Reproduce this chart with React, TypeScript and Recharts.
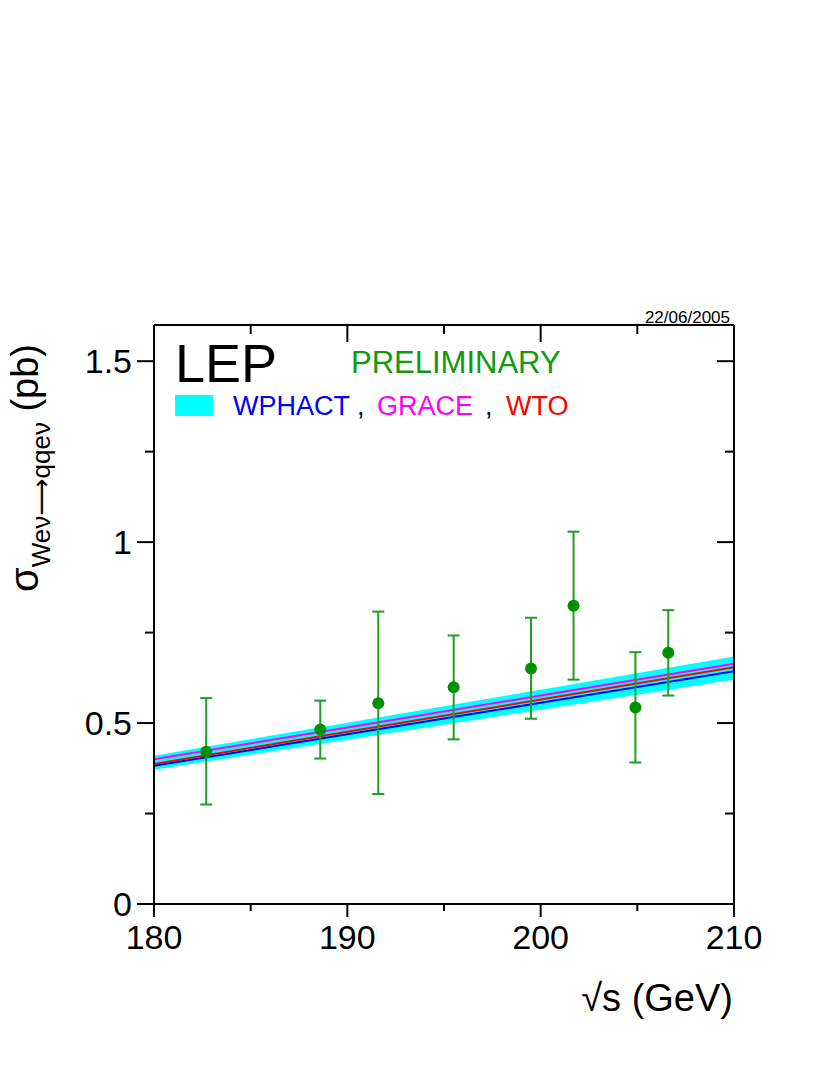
import React from "react";
import {
  ComposedChart,
  Area,
  Line,
  Scatter,
  ErrorBar,
  XAxis,
  YAxis,
} from "recharts";

// ---- data ----
const energies = [182.7, 188.6, 191.6, 195.5, 199.5, 201.7, 204.9, 206.6];
const sigmaMeas = [0.421, 0.482, 0.555, 0.599, 0.651, 0.824, 0.543, 0.694];
const errLow = [0.146, 0.08, 0.251, 0.144, 0.139, 0.204, 0.152, 0.118];
const errHigh = [0.148, 0.08, 0.253, 0.143, 0.14, 0.205, 0.153, 0.118];

const theoryE = [180, 190, 200, 210];
const wphact = [0.382, 0.469, 0.556, 0.643];
const grace = [0.4, 0.488, 0.576, 0.664];
const wto = [0.387, 0.476, 0.565, 0.654];
const bandLow = [0.371, 0.454, 0.537, 0.62];
const bandHigh = [0.41, 0.501, 0.592, 0.684];

const xTicks = [180, 185, 190, 195, 200, 205, 210];
const xMajor = [180, 190, 200, 210];
const yTicks = [0, 0.25, 0.5, 0.75, 1, 1.25, 1.5];
const yMajor = [0, 0.5, 1, 1.5];
const yTickLabels = ["0", "0.5", "1", "1.5"];

const points = energies.map((e, i) => ({
  e,
  s: sigmaMeas[i],
  err: [errLow[i], errHigh[i]],
}));
const theory = theoryE.map((e, i) => ({
  e,
  wphact: wphact[i],
  grace: grace[i],
  wto: wto[i],
  band: [bandLow[i], bandHigh[i]],
}));

const FONT = "'Liberation Sans', Arial, Helvetica, sans-serif";
const GREEN_PT = "#009000";
const GREEN_BAR = "#1f9f1f";
const MAJ = 17;
const MIN = 9;

const isMajorX = (v: number) => xMajor.indexOf(v) >= 0;
const isMajorY = (v: number) => yMajor.indexOf(v) >= 0;

const LeftTick = (props: any) => {
  const { x, y, payload } = props;
  const v = payload.value;
  const major = isMajorY(v);
  const idx = yMajor.indexOf(v);
  return (
    <g>
      <line x1={x - (major ? MAJ : MIN)} x2={x} y1={y} y2={y} stroke="#000" strokeWidth={2} />
      {major && (
        <text x={x - 22} y={y} dy="0.36em" textAnchor="end" fontSize={34} fontFamily={FONT} fill="#000">
          {yTickLabels[idx]}
        </text>
      )}
    </g>
  );
};

const RightTick = (props: any) => {
  const { x, y, payload } = props;
  const major = isMajorY(payload.value);
  return <line x1={x - (major ? MAJ : MIN)} x2={x} y1={y} y2={y} stroke="#000" strokeWidth={2} />;
};

const BottomTick = (props: any) => {
  const { x, y, payload } = props;
  const v = payload.value;
  const major = isMajorX(v);
  return (
    <g>
      <line x1={x} x2={x} y1={y} y2={y + (major ? 13 : 7)} stroke="#000" strokeWidth={2} />
      {major && (
        <text x={x} y={y + 45} textAnchor="middle" fontSize={34} fontFamily={FONT} fill="#000">
          {String(v)}
        </text>
      )}
    </g>
  );
};

const TopTick = (props: any) => {
  const { x, y, payload } = props;
  const major = isMajorX(payload.value);
  return <line x1={x} x2={x} y1={y} y2={y + (major ? MAJ : MIN)} stroke="#000" strokeWidth={2} />;
};

const Dot = (props: any) => {
  const { cx, cy } = props;
  if (cx == null || cy == null) return null;
  return <circle cx={cx} cy={cy} r={6} fill={GREEN_PT} />;
};

export default function App() {
  return (
    <div style={{ position: "absolute", left: 0, top: 0, width: 834, height: 1079, background: "#fff" }}>
      <ComposedChart
        width={834}
        height={1079}
        margin={{ top: 315, right: 90, bottom: 115, left: 94 }}
      >
        <XAxis
          xAxisId="b"
          dataKey="e"
          type="number"
          domain={[180, 210]}
          ticks={xTicks}
          allowDataOverflow
          height={60}
          orientation="bottom"
          tickLine={false}
          tickSize={0}
          tickMargin={0}
          tick={<BottomTick />}
          axisLine={{ stroke: "#000", strokeWidth: 2 }}
          interval={0}
        />
        <XAxis
          xAxisId="t"
          dataKey="e"
          type="number"
          domain={[180, 210]}
          ticks={xTicks}
          allowDataOverflow
          height={10}
          orientation="top"
          tickLine={false}
          tickSize={0}
          tickMargin={0}
          tick={<TopTick />}
          axisLine={{ stroke: "#000", strokeWidth: 2 }}
          interval={0}
        />
        <YAxis
          yAxisId="l"
          type="number"
          domain={[0, 1.6]}
          ticks={yTicks}
          allowDataOverflow
          width={60}
          orientation="left"
          tickLine={false}
          tickSize={0}
          tickMargin={0}
          tick={<LeftTick />}
          axisLine={{ stroke: "#000", strokeWidth: 2 }}
          interval={0}
        />
        <YAxis
          yAxisId="r"
          type="number"
          domain={[0, 1.6]}
          ticks={yTicks}
          allowDataOverflow
          width={10}
          orientation="right"
          tickLine={false}
          tickSize={0}
          tickMargin={0}
          tick={<RightTick />}
          axisLine={{ stroke: "#000", strokeWidth: 2 }}
          interval={0}
        />
        <Area
          data={theory}
          xAxisId="b"
          yAxisId="l"
          dataKey="band"
          type="linear"
          fill="#00ffff"
          fillOpacity={1}
          stroke="none"
          isAnimationActive={false}
        />
        <Line
          data={theory}
          xAxisId="b"
          yAxisId="l"
          dataKey="grace"
          type="linear"
          stroke="#ff00ff"
          strokeWidth={2}
          dot={false}
          activeDot={false}
          isAnimationActive={false}
        />
        <Line
          data={theory}
          xAxisId="b"
          yAxisId="l"
          dataKey="wphact"
          type="linear"
          stroke="#0000ff"
          strokeWidth={2}
          dot={false}
          activeDot={false}
          isAnimationActive={false}
        />
        <Line
          data={theory}
          xAxisId="b"
          yAxisId="l"
          dataKey="wto"
          type="linear"
          stroke="#ff0000"
          strokeWidth={2}
          dot={false}
          activeDot={false}
          isAnimationActive={false}
        />
        <Line
          data={theory}
          xAxisId="t"
          yAxisId="r"
          dataKey="wto"
          type="linear"
          stroke="none"
          dot={false}
          activeDot={false}
          isAnimationActive={false}
        />
        <Scatter
          data={points}
          xAxisId="b"
          yAxisId="l"
          dataKey="s"
          fill={GREEN_PT}
          shape={<Dot />}
          isAnimationActive={false}
        >
          <ErrorBar dataKey="err" direction="y" width={6} stroke={GREEN_BAR} strokeWidth={2} isAnimationActive={false} />
        </Scatter>
      </ComposedChart>
      <svg
        width={834}
        height={1079}
        style={{ position: "absolute", left: 0, top: 0, pointerEvents: "none" }}
        fontFamily={FONT}
      >
        <text x={730} y={323} textAnchor="end" fontSize={17} fill="#000">22/06/2005</text>
        <text x={175} y={382} fontSize={54} fill="#000">LEP</text>
        <text x={351} y={373} fontSize={31} fill="#119911">PRELIMINARY</text>
        <rect x={175} y={395} width={38} height={21} fill="#00ffff" />
        <text x={233} y={415} fontSize={27} fill="#0000ff">WPHACT</text>
        <text x={357} y={415} fontSize={27} fill="#000">,</text>
        <text x={377} y={415} fontSize={27} fill="#ff00ff">GRACE</text>
        <text x={485} y={415} fontSize={27} fill="#000">,</text>
        <text x={506} y={415} fontSize={27} fill="#ff0000">WTO</text>
        <text x={733} y={1011} textAnchor="end" fontSize={38} fill="#000">√s (GeV)</text>
        <text transform="translate(38,592) rotate(-90)" fill="#000">
          <tspan fontSize={40}>σ</tspan>
          <tspan fontSize={26} dy={12}>Weν</tspan>
          <tspan fontSize={26} fontFamily="'DejaVu Sans', sans-serif">⟶</tspan>
          <tspan fontSize={26}>qqeν</tspan>
          <tspan fontSize={38} dy={-12}> (pb)</tspan>
        </text>
      </svg>
    </div>
  );
}
